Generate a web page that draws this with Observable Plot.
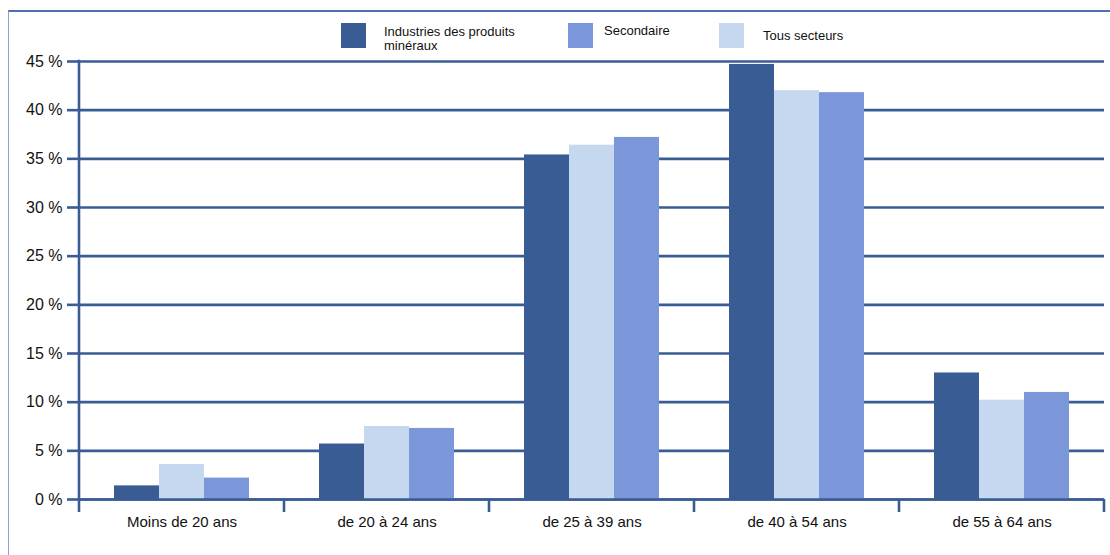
<!DOCTYPE html>
<html>
<head>
<meta charset="utf-8">
<script src="https://cdn.jsdelivr.net/npm/d3@7"></script>
<script src="https://cdn.jsdelivr.net/npm/@observablehq/plot@0.6"></script>
<style>
  body { margin: 0; background: #fff; font-family: "Liberation Sans", Arial, sans-serif; }
  #wrap { position: relative; width: 1110px; height: 555px; overflow: hidden; background: #fff; }
  #frame { position: absolute; left: 8px; top: 10px; width: 1200px; height: 700px;
           border-left: 1px solid #8ea4cf; border-top: 2px solid #4f70ae; box-sizing: border-box; }
  #chart { position: absolute; left: 0; top: 0; }
  .lg-sw { position: absolute; width: 25px; height: 25px; top: 23px; }
  .lg-tx { position: absolute; font-size: 13px; line-height: 14px; color: #111; }
</style>
</head>
<body>
<div id="wrap">
  <div id="frame"></div>
  <div id="chart"></div>
  <div id="legend"></div>
</div>
<script>
// ---- data ----
const categories = ["Moins de 20 ans", "de 20 à 24 ans", "de 25 à 39 ans", "de 40 à 54 ans", "de 55 à 64 ans"];
const seriesNames = ["Industries des produits minéraux", "Secondaire", "Tous secteurs"];
const industries = [1.4, 5.7, 35.4, 44.7, 13.0];
const secondaire = [2.2, 7.3, 37.2, 41.8, 11.0];
const tousSecteurs = [3.6, 7.5, 36.4, 42.0, 10.2];
const seriesColors = ["#3a5c95", "#7c97d9", "#c6d7f0"];
const barOrder = ["Industries des produits minéraux", "Tous secteurs", "Secondaire"];
const yTicks = [0, 5, 10, 15, 20, 25, 30, 35, 40, 45];

const seriesValues = [industries, secondaire, tousSecteurs];
const table = [];
seriesNames.forEach((s, si) => categories.forEach((c, ci) => table.push({category: c, series: s, value: seriesValues[si][ci]})));

const dark = "#3a5c95";

const plot = Plot.plot({
  width: 1110,
  height: 555,
  marginTop: 61,
  marginBottom: 56,
  marginLeft: 79,
  marginRight: 6,
  style: { background: "transparent", fontFamily: "'Liberation Sans', Arial, sans-serif", color: "#111" },
  fx: { domain: categories, padding: 0, label: null },
  x: { domain: barOrder, paddingInner: 0, paddingOuter: 0.744, axis: null },
  y: { domain: [0, 45], label: null },
  color: { domain: seriesNames, range: seriesColors },
  marks: [
    Plot.ruleY(yTicks, { stroke: dark, strokeWidth: 2.6 }),
    Plot.barY(table, { fx: "category", x: "series", y: "value", fill: "series" }),
    Plot.ruleY([0], { stroke: dark, strokeWidth: 2.6 }),
    Plot.axisY({ ticks: yTicks, tickSize: 12, tickPadding: 5, tickFormat: d => d + " %", stroke: dark, strokeWidth: 2.6, fill: "#111", fontSize: 16, label: null }),
    Plot.axisFx({ anchor: "bottom", tickSize: 0, tickPadding: 17, fontSize: 15, fill: "#111", label: null })
  ]
});

document.getElementById("chart").appendChild(plot);

// axis line and category boundary ticks, placed through the plot's own scales
const fxs = plot.scale("fx");
const ys = plot.scale("y");
const bounds = categories.map(c => fxs.apply(c));
bounds.push(fxs.apply(categories[categories.length - 1]) + fxs.bandwidth);
const svg = d3.select(plot);
const g = svg.append("g").attr("stroke", dark).attr("stroke-width", 2.6);
g.append("line").attr("x1", bounds[0]).attr("x2", bounds[0]).attr("y1", ys.apply(45) - 1.3).attr("y2", ys.apply(0) + 13);
bounds.slice(1).forEach(b => g.append("line").attr("x1", b).attr("x2", b).attr("y1", ys.apply(0)).attr("y2", ys.apply(0) + 13));

// legend
const legendX = [341, 568, 719];
const legendTextDx = [43, 36, 44];
const legendTextTop = [25, 24, 29];
const legendWrap = [["Industries des produits", "minéraux"], ["Secondaire"], ["Tous secteurs"]];
const lg = document.getElementById("legend");
seriesNames.forEach((s, i) => {
  const sw = document.createElement("div");
  sw.className = "lg-sw";
  sw.style.left = legendX[i] + "px";
  sw.style.background = seriesColors[i];
  lg.appendChild(sw);
  const tx = document.createElement("div");
  tx.className = "lg-tx";
  tx.style.left = (legendX[i] + legendTextDx[i]) + "px";
  tx.style.top = legendTextTop[i] + "px";
  tx.innerHTML = legendWrap[i].join("<br>");
  lg.appendChild(tx);
});
</script>
</body>
</html>
